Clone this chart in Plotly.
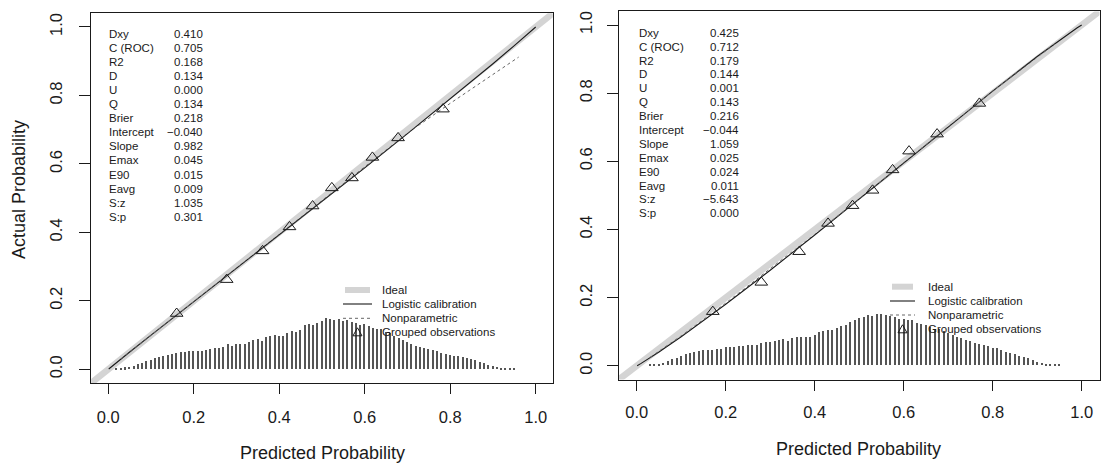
import plotly.graph_objects as go

W, H = 1102, 466
FONT = "Liberation Sans, Arial, sans-serif"
INK = "#1a1a1a"

# ---------------- data ----------------
tick_vals = [0.0, 0.2, 0.4, 0.6, 0.8, 1.0]
tick_text = ["0.0", "0.2", "0.4", "0.6", "0.8", "1.0"]
ideal_xy = [-0.04, 1.04]

stat_names = ["Dxy", "C (ROC)", "R2", "D", "U", "Q", "Brier", "Intercept",
              "Slope", "Emax", "E90", "Eavg", "S:z", "S:p"]
stats_left = ["0.410", "0.705", "0.168", "0.134", "0.000", "0.134", "0.218",
              "\u22120.040", "0.982", "0.045", "0.015", "0.009", "1.035", "0.301"]
stats_right = ["0.425", "0.712", "0.179", "0.144", "0.001", "0.143", "0.216",
               "\u22120.044", "1.059", "0.025", "0.024", "0.011", "\u22125.643", "0.000"]

legend_labels = ["Ideal", "Logistic calibration", "Nonparametric", "Grouped observations"]

# logistic calibration curves
logit_x = [0.001, 0.01, 0.05, 0.1, 0.2, 0.3, 0.4, 0.5, 0.6, 0.7, 0.8, 0.9, 0.95, 0.99, 1.0]
logit_y_left = [0.001, 0.0104, 0.0506, 0.100, 0.1977, 0.2948, 0.3922, 0.490, 0.5886,
                0.6883, 0.7893, 0.8926, 0.9454, 0.9887, 1.0]
logit_y_right = [0.0005, 0.0073, 0.0406, 0.0854, 0.1806, 0.2807, 0.3839, 0.489, 0.5951,
                 0.7012, 0.806, 0.9075, 0.9558, 0.992, 1.0]

# nonparametric (lowess) curves
np_x_left = [0.03, 0.1, 0.2, 0.3, 0.4, 0.5, 0.6, 0.7, 0.8, 0.88, 0.96]
np_y_left = [0.03, 0.1, 0.198, 0.296, 0.394, 0.492, 0.590, 0.690, 0.777, 0.845, 0.912]
np_x_right = [0.03, 0.1, 0.2, 0.3, 0.4, 0.5, 0.6, 0.7, 0.8, 0.9, 0.94]
np_y_right = [0.025, 0.088, 0.184, 0.284, 0.386, 0.49, 0.597, 0.702, 0.806, 0.905, 0.945]

# grouped observations
grp_x_left = [0.160, 0.277, 0.361, 0.424, 0.478, 0.523, 0.570, 0.618, 0.678, 0.783]
grp_y_left = [0.163, 0.262, 0.346, 0.416, 0.477, 0.530, 0.559, 0.619, 0.676, 0.760]
grp_x_right = [0.171, 0.280, 0.365, 0.430, 0.485, 0.530, 0.575, 0.612, 0.675, 0.770]
grp_y_right = [0.159, 0.245, 0.335, 0.418, 0.470, 0.515, 0.575, 0.630, 0.680, 0.770]

# histogram of predicted probabilities (bin centres, spike heights)
hist_x_left = [0.02, 0.03, 0.04, 0.05, 0.06, 0.07, 0.08, 0.09, 0.10, 0.11,
               0.12, 0.13, 0.14, 0.15, 0.16, 0.17, 0.18, 0.19, 0.20, 0.21,
               0.22, 0.23, 0.24, 0.25, 0.26, 0.27, 0.28, 0.29, 0.30, 0.31,
               0.32, 0.33, 0.34, 0.35, 0.36, 0.37, 0.38, 0.39, 0.40, 0.41,
               0.42, 0.43, 0.44, 0.45, 0.46, 0.47, 0.48, 0.49, 0.50, 0.51,
               0.52, 0.53, 0.54, 0.55, 0.56, 0.57, 0.58, 0.59, 0.60, 0.61,
               0.62, 0.63, 0.64, 0.65, 0.66, 0.67, 0.68, 0.69, 0.70, 0.71,
               0.72, 0.73, 0.74, 0.75, 0.76, 0.77, 0.78, 0.79, 0.80, 0.81,
               0.82, 0.83, 0.84, 0.85, 0.86, 0.87, 0.88, 0.89, 0.90, 0.91,
               0.92, 0.93, 0.94, 0.95]
hist_h_left = [0.0015, 0.003, 0.0045, 0.007, 0.010, 0.015, 0.019, 0.023, 0.026, 0.031,
               0.035, 0.039, 0.042, 0.045, 0.048, 0.050, 0.051, 0.053, 0.053, 0.054,
               0.053, 0.056, 0.058, 0.061, 0.061, 0.064, 0.073, 0.067, 0.073, 0.073,
               0.073, 0.079, 0.085, 0.088, 0.082, 0.094, 0.096, 0.099, 0.096, 0.096,
               0.105, 0.111, 0.108, 0.114, 0.129, 0.132, 0.129, 0.135, 0.140, 0.149,
               0.146, 0.143, 0.146, 0.140, 0.143, 0.137, 0.135, 0.129, 0.132, 0.126,
               0.120, 0.117, 0.117, 0.108, 0.105, 0.096, 0.091, 0.085, 0.079, 0.073,
               0.067, 0.064, 0.061, 0.058, 0.056, 0.053, 0.048, 0.045, 0.042, 0.039,
               0.037, 0.034, 0.031, 0.028, 0.025, 0.020, 0.018, 0.013, 0.009, 0.006,
               0.0035, 0.003, 0.0025, 0.002]

hist_x_right = [0.03, 0.04, 0.05, 0.06, 0.07, 0.08, 0.09, 0.10, 0.11,
                0.12, 0.13, 0.14, 0.15, 0.16, 0.17, 0.18, 0.19, 0.20, 0.21,
                0.22, 0.23, 0.24, 0.25, 0.26, 0.27, 0.28, 0.29, 0.30, 0.31,
                0.32, 0.33, 0.34, 0.35, 0.36, 0.37, 0.38, 0.39, 0.40, 0.41,
                0.42, 0.43, 0.44, 0.45, 0.46, 0.47, 0.48, 0.49, 0.50, 0.51,
                0.52, 0.53, 0.54, 0.55, 0.56, 0.57, 0.58, 0.59, 0.60, 0.61,
                0.62, 0.63, 0.64, 0.65, 0.66, 0.67, 0.68, 0.69, 0.70, 0.71,
                0.72, 0.73, 0.74, 0.75, 0.76, 0.77, 0.78, 0.79, 0.80, 0.81,
                0.82, 0.83, 0.84, 0.85, 0.86, 0.87, 0.88, 0.89, 0.90, 0.91,
                0.92, 0.93, 0.94, 0.95]
hist_h_right = [0.0015, 0.002, 0.003, 0.006, 0.014, 0.018, 0.023, 0.028, 0.033,
                0.036, 0.039, 0.042, 0.044, 0.045, 0.044, 0.048, 0.048, 0.053, 0.053,
                0.054, 0.056, 0.058, 0.061, 0.061, 0.061, 0.067, 0.068, 0.070, 0.073,
                0.075, 0.077, 0.073, 0.082, 0.083, 0.083, 0.083, 0.085, 0.089, 0.097,
                0.100, 0.103, 0.105, 0.111, 0.116, 0.119, 0.129, 0.132, 0.138, 0.141,
                0.147, 0.144, 0.150, 0.152, 0.147, 0.144, 0.141, 0.135, 0.135, 0.132,
                0.132, 0.126, 0.123, 0.120, 0.114, 0.108, 0.106, 0.100, 0.094, 0.088,
                0.085, 0.082, 0.076, 0.073, 0.067, 0.062, 0.059, 0.056, 0.051, 0.050,
                0.044, 0.040, 0.038, 0.034, 0.029, 0.026, 0.022, 0.017, 0.010, 0.006,
                0.0035, 0.003, 0.0025, 0.002]


# ---------------- layout helpers (pixel -> paper) ----------------
def px(x):
    return x / W


def py(y):
    return 1 - y / H


panels = [
    dict(xa="x", ya="y", box=(91.2, 552.8, 13.3, 383.0),
         stats=stats_left, stat_x=(108.3, 204.0), stat_y0=34.0, stat_dy=14.05,
         leg_x=(343, 372, 380.7), leg_y=[290, 304, 318.3, 332.3],
         hist=(hist_x_left, hist_h_left), logit=logit_y_left,
         npc=(np_x_left, np_y_left), grp=(grp_x_left, grp_y_left),
         xtitle=(322, 453)),
    dict(xa="x2", ya="y2", box=(618.9, 1099.5, 11.4, 379.5),
         stats=stats_right, stat_x=(638.3, 740.0), stat_y0=32.7, stat_dy=13.9,
         leg_x=(890, 915, 926.7), leg_y=[286.7, 301, 315, 329.3],
         hist=(hist_x_right, hist_h_right), logit=logit_y_right,
         npc=(np_x_right, np_y_right), grp=(grp_x_right, grp_y_right),
         xtitle=(858, 449)),
]

fig = go.Figure()
annotations = []
shapes = []

for p in panels:
    xa, ya = p["xa"], p["ya"]
    fig.add_trace(go.Scatter(x=ideal_xy, y=ideal_xy, mode="lines",
                             line=dict(color="#d4d4d4", width=6.5),
                             xaxis=xa, yaxis=ya, showlegend=False, hoverinfo="skip"))
    hx, hh = p["hist"]
    fig.add_trace(go.Bar(x=hx, y=hh, width=0.0032, marker=dict(color="#555555", line=dict(width=0)),
                         xaxis=xa, yaxis=ya, showlegend=False))
    fig.add_trace(go.Scatter(x=logit_x, y=p["logit"], mode="lines",
                             line=dict(color=INK, width=1.1),
                             xaxis=xa, yaxis=ya, showlegend=False))
    nx, ny = p["npc"]
    fig.add_trace(go.Scatter(x=nx, y=ny, mode="lines",
                             line=dict(color="#666666", width=1, dash="dot"),
                             xaxis=xa, yaxis=ya, showlegend=False))
    gx, gy = p["grp"]
    fig.add_trace(go.Scatter(x=gx, y=gy, mode="markers",
                             marker=dict(symbol="triangle-up-open", size=11, color=INK,
                                         line=dict(width=1, color=INK)),
                             xaxis=xa, yaxis=ya, showlegend=False))

    # statistics block
    lx, vx = p["stat_x"]
    for i, (name, val) in enumerate(zip(stat_names, p["stats"])):
        yy = p["stat_y0"] + p["stat_dy"] * i
        annotations.append(dict(x=px(lx - 1), y=py(yy), xref="paper", yref="paper",
                                text=name, showarrow=False, xanchor="left", yanchor="middle",
                                font=dict(family=FONT, size=11.5, color=INK)))
        annotations.append(dict(x=px(vx + 1), y=py(yy), xref="paper", yref="paper",
                                text=val, showarrow=False, xanchor="right", yanchor="middle",
                                font=dict(family=FONT, size=11.5, color=INK)))

    # legend
    s0, s1, tx = p["leg_x"]
    ly = p["leg_y"]
    for lab, yy in zip(legend_labels, ly):
        annotations.append(dict(x=px(tx - 1), y=py(yy), xref="paper", yref="paper",
                                text=lab, showarrow=False, xanchor="left", yanchor="middle",
                                font=dict(family=FONT, size=11.5, color=INK)))
    shapes.append(dict(type="line", xref="paper", yref="paper", x0=px(s0 + 2), x1=px(s1 - 2),
                       y0=py(ly[0]), y1=py(ly[0]), line=dict(color="#d4d4d4", width=6)))
    shapes.append(dict(type="line", xref="paper", yref="paper", x0=px(s0), x1=px(s1),
                       y0=py(ly[1]), y1=py(ly[1]), line=dict(color=INK, width=1.1)))
    shapes.append(dict(type="line", xref="paper", yref="paper", x0=px(s0), x1=px(s1),
                       y0=py(ly[2]), y1=py(ly[2]), line=dict(color="#666666", width=1, dash="dot")))
    cx, cy = (s0 + s1) / 2, ly[3]
    tri = "M {:.5f},{:.5f} L {:.5f},{:.5f} L {:.5f},{:.5f} Z".format(
        px(cx - 4.5), py(cy + 3.5), px(cx + 4.5), py(cy + 3.5), px(cx), py(cy - 4.5))
    shapes.append(dict(type="path", xref="paper", yref="paper", path=tri,
                       line=dict(color=INK, width=1)))

    # x-axis title
    tx_, ty_ = p["xtitle"]
    annotations.append(dict(x=px(tx_), y=py(ty_), xref="paper", yref="paper",
                            text="Predicted Probability", showarrow=False,
                            xanchor="center", yanchor="middle",
                            font=dict(family=FONT, size=18, color=INK)))

annotations.append(dict(x=px(19), y=py(190), xref="paper", yref="paper",
                        text="Actual Probability", showarrow=False, textangle=-90,
                        xanchor="center", yanchor="middle",
                        font=dict(family=FONT, size=18, color=INK)))

axis_common = dict(range=[-0.04, 1.04], showgrid=False, zeroline=False,
                   showline=True, mirror=True, linecolor=INK, linewidth=1,
                   ticks="outside", tickcolor=INK, tickwidth=1,
                   tickvals=tick_vals, ticktext=tick_text,
                   tickfont=dict(family=FONT, size=16.5, color=INK))

lb, rb = panels[0]["box"], panels[1]["box"]
fig.update_layout(
    width=W, height=H, margin=dict(l=0, r=0, t=0, b=0),
    paper_bgcolor="white", plot_bgcolor="white",
    showlegend=False, bargap=0, barmode="overlay",
    xaxis=dict(domain=[px(lb[0]), px(lb[1])], anchor="y", ticklen=10,
               ticklabelstandoff=9, **axis_common),
    yaxis=dict(domain=[py(lb[3]), py(lb[2])], anchor="x", ticklen=11, tickangle=-90,
               ticklabelstandoff=11, **axis_common),
    xaxis2=dict(domain=[px(rb[0]), px(rb[1])], anchor="y2", ticklen=10,
                ticklabelstandoff=8, **axis_common),
    yaxis2=dict(domain=[py(rb[3]), py(rb[2])], anchor="x2", ticklen=11, tickangle=-90,
                ticklabelstandoff=8, **axis_common),
    annotations=annotations, shapes=shapes,
)

fig.write_html("out.html")
